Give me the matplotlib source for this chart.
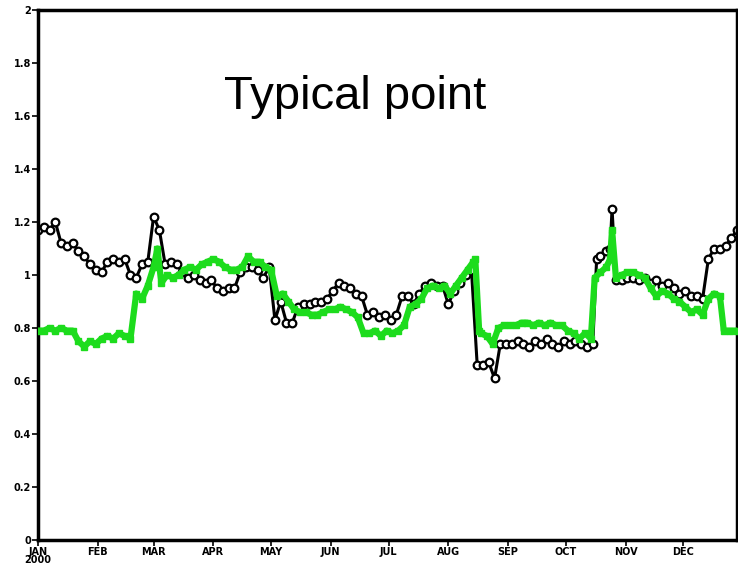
import matplotlib
matplotlib.use("Agg")
import matplotlib.pyplot as plt

# day of year 2000 (0 = 1 Jan) and values
black_days = [0, 3, 6, 9, 12, 15, 18, 21, 24, 27, 30, 33, 36, 39, 42, 45, 48, 51, 54, 57,
              60, 63, 66, 69, 72, 75, 78, 81, 84, 87, 90, 93, 96, 99, 102, 105, 108, 111,
              114, 117, 120, 123, 126, 129, 132, 135, 138, 141, 144, 147, 150, 153, 156,
              159, 162, 165, 168, 171, 174, 177, 180, 183, 186, 189, 192, 195, 198, 201,
              204, 207, 210, 213, 216, 219, 222, 225, 228, 231, 234, 237, 240, 243, 246,
              249, 252, 255, 258, 261, 264, 267, 270, 273, 276, 279, 282, 285, 288, 290,
              292, 295, 297, 298, 300, 303, 306, 309, 312, 315, 318, 321, 324, 327, 330,
              333, 336, 339, 342, 345, 348, 351, 354, 357, 360, 363]
black_vals = [1.17, 1.18, 1.17, 1.20, 1.12, 1.11, 1.12, 1.09, 1.07, 1.04, 1.02, 1.01, 1.05,
              1.06, 1.05, 1.06, 1.00, 0.99, 1.04, 1.05, 1.22, 1.17, 1.04, 1.05, 1.04, 1.01,
              0.99, 1.00, 0.98, 0.97, 0.98, 0.95, 0.94, 0.95, 0.95, 1.01, 1.03, 1.03, 1.02,
              0.99, 1.03, 0.83, 0.90, 0.82, 0.82, 0.88, 0.89, 0.89, 0.90, 0.90, 0.91, 0.94,
              0.97, 0.96, 0.95, 0.93, 0.92, 0.85, 0.86, 0.84, 0.85, 0.83, 0.85, 0.92, 0.92,
              0.89, 0.93, 0.96, 0.97, 0.96, 0.96, 0.89, 0.94, 0.97, 1.00, 1.02, 0.66, 0.66,
              0.67, 0.61, 0.74, 0.74, 0.74, 0.75, 0.74, 0.73, 0.75, 0.74, 0.76, 0.74, 0.73,
              0.75, 0.74, 0.75, 0.74, 0.73, 0.74, 1.06, 1.07, 1.09, 1.10, 1.25, 0.98, 0.98,
              0.99, 0.99, 0.98, 0.99, 0.97, 0.98, 0.96, 0.97, 0.95, 0.93, 0.94, 0.92, 0.92,
              0.91, 1.06, 1.10, 1.10, 1.11, 1.14, 1.17]

green_days = [0, 3, 6, 9, 12, 15, 18, 21, 24, 27, 30, 33, 36, 39, 42, 45, 48, 51, 54, 57,
              60, 62, 64, 67, 70, 73, 76, 79, 82, 85, 88, 91, 94, 97, 100, 103, 106, 109,
              112, 115, 118, 121, 124, 127, 130, 133, 136, 139, 142, 145, 148, 151, 154,
              157, 160, 163, 166, 169, 172, 175, 178, 181, 184, 187, 190, 193, 196, 199,
              202, 205, 208, 211, 214, 217, 220, 223, 226, 227, 229, 230, 233, 236, 239,
              242, 245, 248, 251, 254, 257, 260, 263, 266, 269, 272, 275, 278, 281, 284,
              287, 289, 292, 295, 297, 298, 300, 303, 306, 309, 312, 315, 318, 321, 324,
              327, 330, 333, 336, 339, 342, 345, 348, 351, 354, 356, 359, 363]
green_vals = [0.79, 0.79, 0.80, 0.79, 0.80, 0.79, 0.79, 0.75, 0.73, 0.75, 0.74, 0.76, 0.77,
              0.76, 0.78, 0.77, 0.76, 0.93, 0.91, 0.96, 1.03, 1.10, 0.97, 1.00, 0.99, 1.00,
              1.02, 1.03, 1.02, 1.04, 1.05, 1.06, 1.05, 1.03, 1.02, 1.02, 1.03, 1.07, 1.05,
              1.05, 1.03, 1.02, 0.92, 0.93, 0.90, 0.87, 0.86, 0.86, 0.85, 0.85, 0.86, 0.87,
              0.87, 0.88, 0.87, 0.86, 0.84, 0.78, 0.78, 0.79, 0.77, 0.79, 0.78, 0.79, 0.81,
              0.88, 0.89, 0.91, 0.95, 0.96, 0.95, 0.96, 0.93, 0.96, 0.99, 1.02, 1.05, 1.06,
              0.79, 0.78, 0.77, 0.74, 0.80, 0.81, 0.81, 0.81, 0.82, 0.82, 0.81, 0.82, 0.81,
              0.82, 0.81, 0.81, 0.79, 0.78, 0.76, 0.78, 0.76, 0.99, 1.01, 1.03, 1.06, 1.17,
              0.99, 1.00, 1.01, 1.01, 1.00, 0.99, 0.95, 0.92, 0.94, 0.93, 0.91, 0.90, 0.88,
              0.86, 0.87, 0.85, 0.91, 0.93, 0.92, 0.79, 0.79, 0.79]

month_days = [0, 31, 60, 91, 121, 152, 182, 213, 244, 274, 305, 335]
month_labels = ["JAN\n2000", "FEB", "MAR", "APR", "MAY", "JUN",
                "JUL", "AUG", "SEP", "OCT", "NOV", "DEC"]
y_ticks = [0, 0.2, 0.4, 0.6, 0.8, 1.0, 1.2, 1.4, 1.6, 1.8, 2.0]
y_labels = ["0", "0.2", "0.4", "0.6", "0.8", "1", "1.2", "1.4", "1.6", "1.8", "2"]

fig = plt.figure(figsize=(7.38, 5.70), dpi=100)
ax = fig.add_axes([38 / 738, 30 / 570, 1 - 38 / 738 - 0.001, 530 / 570])

# black: dense open circles on a heavy line, green: thick line with squares
ax.plot(black_days, black_vals, color="black", lw=2.2, marker="o", ms=5.5,
        mfc="white", mec="black", mew=1.6, zorder=2)
ax.plot(green_days, green_vals, color="#1ddc1d", lw=4.5, marker="s", ms=5,
        mfc="#1ddc1d", mec="#1ddc1d", zorder=3)

ax.set_xlim(0, 363)
ax.set_ylim(0, 2)
ax.set_xticks(month_days)
ax.set_xticklabels(month_labels, fontsize=7, fontweight="bold", linespacing=0.8)
ax.set_yticks(y_ticks)
ax.set_yticklabels(y_labels, fontsize=7, fontweight="bold")
ax.tick_params(axis="both", direction="out", length=4, width=1.2, pad=1)
for s in ax.spines.values():
    s.set_linewidth(2.5)

ax.text(0.453, 0.835, "Typical point", transform=ax.transAxes, ha="center",
        va="center", fontsize=34, family="Liberation Sans")

fig.savefig("out.png", dpi=100)
